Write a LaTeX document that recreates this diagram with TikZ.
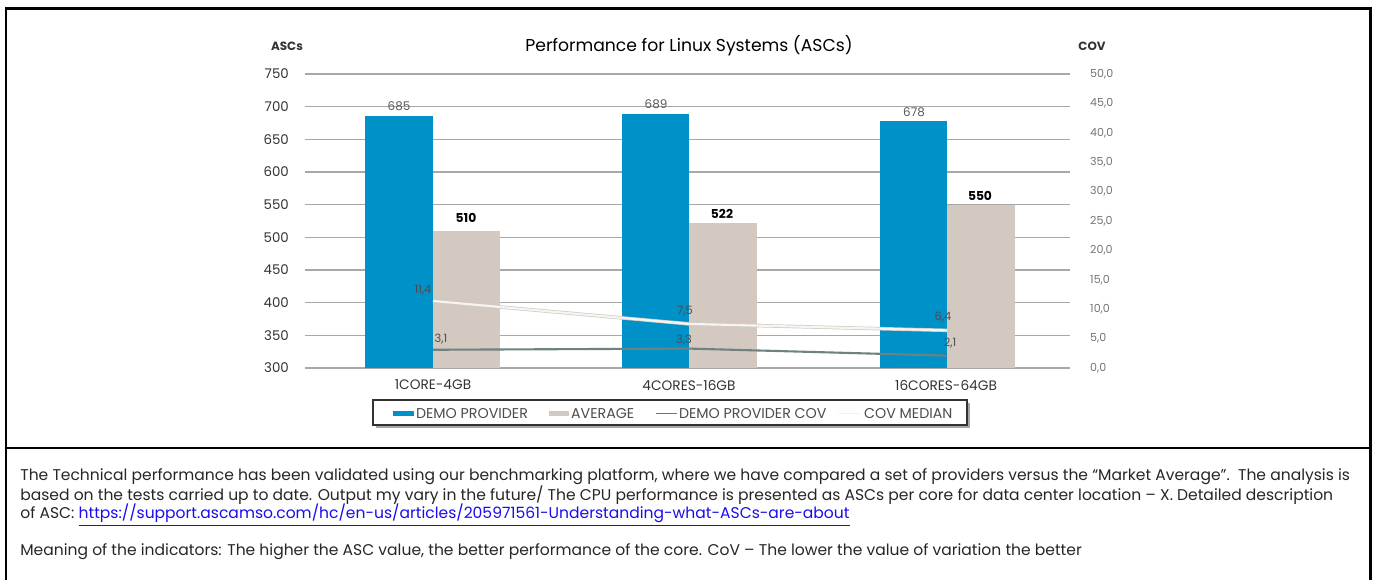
\documentclass[tikz,border=0pt]{standalone}
\usepackage{fontspec}
\setmainfont{Poppins}
\usepackage{xcolor}
\usepackage{tikz}
\definecolor{provblue}{HTML}{0091C9}
\definecolor{avgbeige}{HTML}{D3C9C0}
\definecolor{covgrey}{HTML}{6F8282}
\definecolor{medcream}{HTML}{F9F4EC}
\definecolor{gridgrey}{HTML}{A8A8A8}
\definecolor{linkblue}{HTML}{1A0DEB}
\tikzstyle{frame} = [line width=1.7pt, black]
\tikzstyle{grid} = [line width=0.6pt, gridgrey]
\tikzstyle{ylab} = [anchor=east, text=black!80, font=\fontsize{7.6}{9}\selectfont]
\tikzstyle{covlab} = [anchor=west, text=black!55, font=\fontsize{6.3}{8}\selectfont]
\tikzstyle{catlab} = [text=black!80, font=\fontsize{7.8}{9}\selectfont]
\tikzstyle{toplab} = [text=black!65, font=\fontsize{6.8}{8}\selectfont]
\tikzstyle{avglab} = [text=black, font=\fontsize{7}{8}\selectfont\bfseries]
\tikzstyle{ptlab} = [text=black!70, font=\fontsize{6.5}{8}\selectfont]
\tikzstyle{leglab} = [anchor=west, inner sep=1pt, text=black!70, font=\fontsize{8.1}{9}\selectfont]

\begin{document}
\begin{tikzpicture}[x=0.02cm, y=-0.02cm]
        \useasboundingbox (0,0) rectangle (1375,580);
        % frame
        \draw [frame] (6,582) -- (6,9) -- (1370,9) -- (1370,582);
        \draw [frame] (6,448) -- (1370,448);
        % grid and axes
        \foreach \v in {300,350,...,750}{
            \draw [grid] (305,{368-(\v-300)*0.65333}) -- (1070,{368-(\v-300)*0.65333});
            \node [ylab] at (295,{368-(\v-300)*0.65333}) {\v};
        }
        \foreach \c/\n in {{0,0}/0,{5,0}/1,{10,0}/2,{15,0}/3,{20,0}/4,{25,0}/5,{30,0}/6,{35,0}/7,{40,0}/8,{45,0}/9,{50,0}/10}{
            \node [covlab] at (1084,{368-\n*29.4}) {\c};
        }
        \node (asc) [font=\fontsize{6.8}{8}\selectfont\bfseries, text=black!80] at (287,46) {ASCs};
        \node (cov) [font=\fontsize{6.8}{8}\selectfont\bfseries, text=black!80] at (1092,46) {COV};
        \node (title) [font=\fontsize{9.8}{12}\selectfont, text=black] at (689,46) {Performance for Linux Systems (ASCs)};
        % bars
        \fill [provblue] (365,368) rectangle (433,{368-385*0.65333});
        \fill [avgbeige] (433,368) rectangle (500,{368-210*0.65333});
        \fill [provblue] (622,368) rectangle (689,{368-389*0.65333});
        \fill [avgbeige] (689,368) rectangle (757,{368-222*0.65333});
        \fill [provblue] (880,368) rectangle (947,{368-378*0.65333});
        \fill [avgbeige] (947,368) rectangle (1015,{368-250*0.65333});
        \node (v685) [toplab] at (399,106) {685};
        \node (v689) [toplab] at (656,104) {689};
        \node (v678) [toplab] at (914,112) {678};
        \node (v510) [avglab] at (466,218) {510};
        \node (v522) [avglab] at (722,214) {522};
        \node (v550) [avglab] at (980,196) {550};
        % cov lines
        \coordinate (m1) at (433,{368-11.4*5.88});
        \coordinate (m2) at (689,{368-7.5*5.88});
        \coordinate (m3) at (947,{368-6.4*5.88});
        \coordinate (p1) at (433,{368-3.1*5.88});
        \coordinate (p2) at (689,{368-3.3*5.88});
        \coordinate (p3) at (947,{368-2.1*5.88});
        \draw [black!20, line width=2pt] (m1) -- (m2) -- (m3);
        \draw [medcream, line width=1.2pt] (m1) -- (m2) -- (m3);
        \draw [covgrey, line width=1.2pt] (p1) -- (p2) -- (p3);
        \node (l114) [ptlab] at (423,290) {11,4};
        \node (l75) [ptlab] at (685,311) {7,5};
        \node (l64) [ptlab] at (943,317) {6,4};
        \node (l31) [ptlab] at (441,339) {3,1};
        \node (l33) [ptlab] at (684,340) {3,3};
        \node (l21) [ptlab] at (950,343) {2,1};
        % categories
        \node (c1) [catlab] at (433,385) {1CORE-4GB};
        \node (c2) [catlab] at (689,385) {4CORES-16GB};
        \node (c3) [catlab] at (946,385) {16CORES-64GB};
        % legend
        \fill [black!35] (376,403) rectangle (970,428);
        \draw [black!80, fill=white, line width=0.6pt] (373,400) rectangle (967,425);
        \fill [provblue] (393,411) rectangle (414,416);
        \node (lg1) [leglab] at (414,413.5) {DEMO PROVIDER};
        \fill [avgbeige] (549,411) rectangle (569,416);
        \node (lg2) [leglab] at (569,413.5) {AVERAGE};
        \draw [black!55, line width=0.85pt] (656,413.5) -- (677,413.5);
        \node (lg3) [leglab] at (677,413.5) {DEMO PROVIDER COV};
        \draw [medcream!80!black!20, line width=0.85pt] (838,413.5) -- (860,413.5);
        \node (lg4) [leglab] at (862,413.5) {COV MEDIAN};
        % notes
        \node (notes) [anchor=north west, align=left, inner sep=0pt, text=black!85, font=\fontsize{8.85}{10.3}\selectfont] at (20,468) {The Technical performance has been validated using our benchmarking platform, where we have compared a set of providers versus the “Market Average”.\ \ The analysis is\\based on the tests carried up to date. Output my vary in the future/ The CPU performance is presented as ASCs per core for data center location – X. Detailed description\\of ASC: \textcolor{linkblue}{\smash{\underline{https://support.ascamso.com/hc/en-us/articles/205971561-Understanding-what-ASCs-are-about}}}\\[10.3pt]Meaning of the indicators: The higher the ASC value, the better performance of the core. CoV – The lower the value of variation the better};
    \end{tikzpicture}
\end{document}
